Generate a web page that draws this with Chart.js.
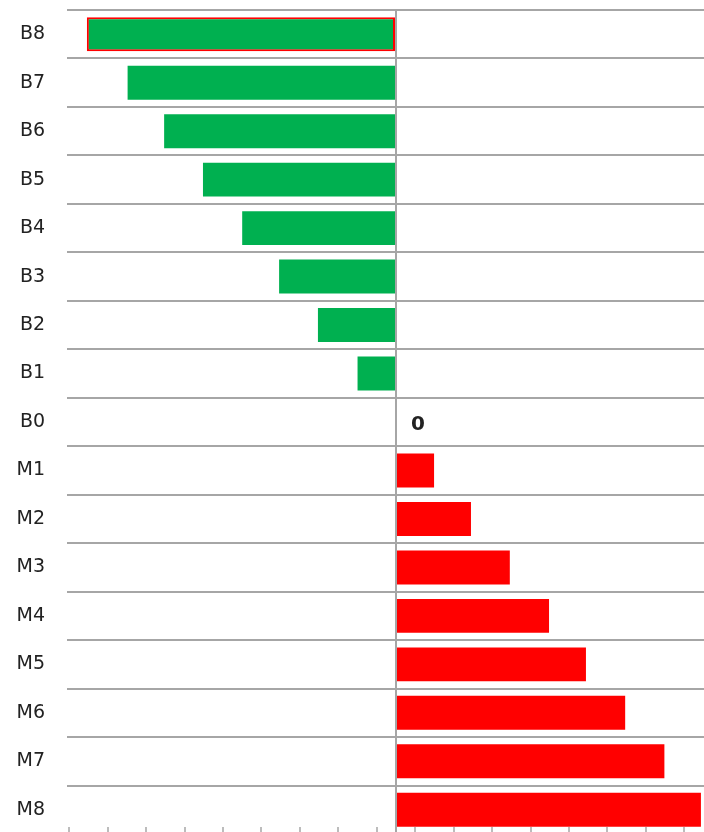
<!DOCTYPE html>
<html>
<head>
<meta charset="utf-8">
<script src="https://cdn.jsdelivr.net/npm/chart.js@4"></script>
<style>
html, body { margin: 0; padding: 0; overflow: hidden; background: #fff; }
#wrap { width: 704px; height: 832px; overflow: hidden; }
</style>
</head>
<body>
<div id="wrap"><canvas id="c" width="704" height="834"></canvas></div>
<script>
// Categories (top to bottom)
const categories = ['B8','B7','B6','B5','B4','B3','B2','B1','B0','M1','M2','M3','M4','M5','M6','M7','M8'];
// Values
const bValues = [-8.04, -6.98, -6.03, -5.02, -4.0, -3.04, -2.03, -1.0, 0];   // B8 .. B0
const mValues = [0.99, 1.95, 2.96, 3.98, 4.94, 5.96, 6.98, 7.93];           // M1 .. M8
// Value-axis tick marks
const tickValues = [-8.5,-7.5,-6.5,-5.5,-4.5,-3.5,-2.5,-1.5,-0.5,0,0.5,1.5,2.5,3.5,4.5,5.5,6.5,7.5];
const xMin = -8.556, xMax = 8.01;
const labelledIndex = 8; // B0 carries a "0" data label

const values = bValues.concat(mValues);
const GREEN = '#00B050', RED = '#FF0000', GRID = '#a6a6a6';

const labelPlugin = {
  id: 'zeroLabel',
  afterDatasetsDraw(chart) {
    const meta = chart.getDatasetMeta(0);
    const el = meta.data[labelledIndex];
    const ctx = chart.ctx;
    ctx.save();
    ctx.font = 'bold 20px "DejaVu Sans"';
    ctx.fillStyle = '#222';
    ctx.textAlign = 'left';
    ctx.textBaseline = 'middle';
    ctx.fillText(String(values[labelledIndex]), el.x + 15, el.y + 3);
    ctx.restore();
  }
};

new Chart(document.getElementById('c'), {
  type: 'bar',
  data: {
    labels: categories,
    datasets: [{
      data: values,
      backgroundColor: categories.map(c => c.startsWith('B') ? GREEN : RED),
      borderColor: categories.map((c, i) => i === 0 ? RED : 'rgba(0,0,0,0)'),
      borderWidth: categories.map((c, i) => i === 0 ? 2 : 0),
      borderSkipped: false,
      categoryPercentage: 1.0,
      barPercentage: 0.7
    }]
  },
  options: {
    indexAxis: 'y',
    responsive: false,
    devicePixelRatio: 1,
    animation: false,
    layout: { padding: { top: 10, left: 0, right: 0, bottom: 0 } },
    plugins: { legend: { display: false }, tooltip: { enabled: false } },
    scales: {
      x: {
        type: 'linear',
        position: 'bottom',
        min: xMin,
        max: xMax,
        z: 1,
        afterBuildTicks: s => { s.ticks = tickValues.map(v => ({ value: v })); },
        afterFit: s => { s.height = 0; s.paddingLeft = 0; s.paddingRight = 0; },
        ticks: { display: false },
        border: { display: false },
        grid: {
          drawOnChartArea: true,
          drawTicks: true,
          tickLength: -7,
          color: ctx => (ctx.tick && ctx.tick.value === 0) ? GRID : 'rgba(0,0,0,0)',
          lineWidth: 2,
          tickColor: GRID,
          tickWidth: 1.5
        }
      },
      y: {
        type: 'category',
        position: 'left',
        afterFit: s => { s.width = 67; s.paddingTop = 0; s.paddingBottom = 0; },
        border: { display: false },
        grid: {
          offset: true,
          drawTicks: false,
          color: GRID,
          lineWidth: 2
        },
        ticks: {
          padding: 22,
          color: '#222',
          font: { family: 'DejaVu Sans', size: 19 }
        }
      }
    }
  },
  plugins: [labelPlugin]
});
</script>
</body>
</html>
